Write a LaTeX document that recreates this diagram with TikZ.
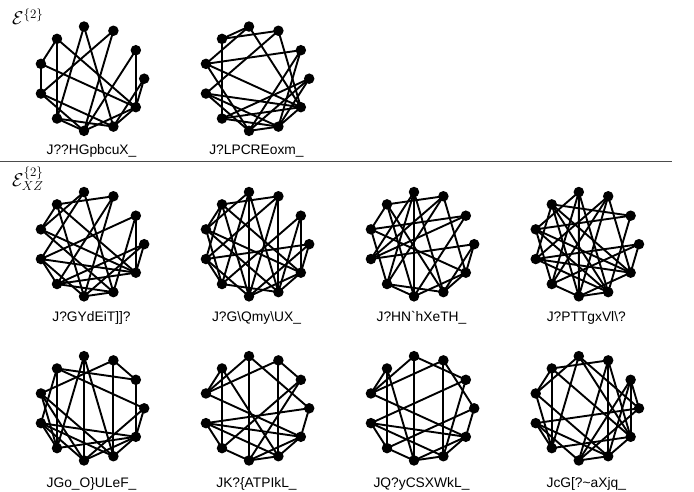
\RequirePackage{fix-cm}
\documentclass[tikz,border=0pt]{standalone}
\usepackage{fontspec}
\newfontfamily\lab{Liberation Sans}
\usetikzlibrary{backgrounds}
\tikzset{
  vtx/.style={circle, fill=black, inner sep=0pt, minimum size=10.5pt},
  edgeline/.style={line width=1.9pt, black},
  lbl/.style={font=\lab\fontsize{13.8}{15}\selectfont, anchor=base},
  sep/.style={line width=0.8pt, black!70},
  title/.style={anchor=base west, inner sep=0pt, font=\fontsize{18.5}{21}\selectfont}
}
\newcommand{\gdraw}[6]{%
  \begin{scope}[shift={(#2,#3)}]
    \foreach \k in {0,...,10} \node[vtx] (#1\k) at ({-360*\k/11}:52.7) {};
    \begin{scope}[on background layer]
      \foreach \a/\b in {#4} \draw[edgeline] (#1\a.center) -- (#1\b.center);
    \end{scope}
  \end{scope}
  \node[lbl] (#1lab) at (#2,#6) {#5};}
\begin{document}
\begin{tikzpicture}[x=1pt, y=-1pt]
\useasboundingbox (0,0) rectangle (694,492);
\node[title] (t1) at (12,25) {$\mathcal{E}^{\{2\}}$};
\node[title] (t2) at (12,186.5) {$\mathcal{E}^{\{2\}}_{XZ}$};
\coordinate (s1) at (0,161);
\coordinate (s2) at (672,161);
\draw[sep] (s1) -- (s2);
\gdraw{a}{91.5}{78.7}{4/5, 2/6, 5/6, 3/7, 4/7, 1/8, 2/8, 6/8, 7/8, 0/9, 3/9, 6/9, 7/9, 0/10, 1/10, 4/10, 5/10, 8/10, 9/10}{J??HGpbcuX\_}{155}
\gdraw{b}{256.5}{78.7}{2/4, 3/4, 1/5, 3/5, 2/6, 0/7, 4/7, 0/8, 1/8, 5/8, 6/8, 0/9, 1/9, 6/9, 7/9, 8/9, 2/10, 3/10, 5/10, 6/10, 7/10, 9/10}{J?LPCREoxm\_}{155}
\gdraw{c}{91.5}{244.2}{2/4, 3/5, 4/5, 1/6, 3/6, 0/7, 2/7, 6/7, 0/8, 2/8, 4/8, 6/8, 1/9, 3/9, 5/9, 7/9, 8/9, 0/10, 1/10, 4/10, 5/10, 6/10, 7/10}{J?GYdEiT]]?}{321.5}
\gdraw{d}{256.5}{244.2}{2/4, 3/5, 4/5, 0/6, 2/6, 4/6, 1/7, 3/7, 5/7, 6/7, 0/8, 2/8, 3/8, 4/8, 6/8, 1/9, 2/9, 3/9, 5/9, 7/9, 0/10, 1/10, 4/10, 5/10, 8/10, 9/10}{J?G\textbackslash Qmy\textbackslash UX\_}{321.5}
\gdraw{e}{421.5}{244.2}{2/4, 1/5, 4/5, 0/6, 1/6, 2/6, 3/6, 2/7, 3/7, 5/7, 1/8, 3/8, 4/8, 7/8, 0/9, 3/9, 4/9, 7/9, 0/10, 2/10, 5/10, 8/10, 9/10}{J?HN\textasciigrave hXeTH\_}{321.5}
\gdraw{f}{586.3}{244.2}{1/4, 1/5, 3/5, 0/6, 2/6, 4/6, 0/7, 2/7, 3/7, 5/7, 2/8, 3/8, 4/8, 7/8, 1/9, 3/9, 4/9, 5/9, 6/9, 8/9, 0/10, 2/10, 4/10, 5/10, 6/10, 8/10}{J?PTTgxVl\textbackslash ?}{321.5}
\gdraw{g}{91.5}{408.3}{1/2, 0/4, 1/4, 2/5, 4/6, 3/7, 4/7, 5/7, 6/7, 0/8, 3/8, 5/8, 6/8, 2/9, 3/9, 5/9, 6/9, 0/10, 1/10, 6/10, 7/10, 8/10, 9/10}{JGo\_O\}ULeF\_}{487}
\gdraw{h}{256.5}{408.3}{1/2, 0/3, 2/5, 3/5, 4/5, 0/6, 1/7, 4/7, 6/7, 1/8, 3/8, 7/8, 2/9, 4/9, 6/9, 8/9, 0/10, 5/10, 6/10, 8/10, 9/10}{JK?\{ATPIkL\_}{487}
\gdraw{i}{421.5}{408.3}{0/2, 1/3, 2/5, 3/5, 4/5, 1/6, 0/7, 4/7, 6/7, 3/8, 4/8, 7/8, 1/9, 2/9, 6/9, 8/9, 0/10, 5/10, 6/10, 8/10, 9/10}{JQ?yCSXWkL\_}{487}
\gdraw{j}{586.3}{408.3}{0/1, 0/3, 2/4, 3/5, 4/5, 0/6, 3/7, 4/7, 5/7, 6/7, 0/8, 1/8, 2/8, 6/8, 1/9, 2/9, 5/9, 6/9, 8/9, 1/10, 2/10, 3/10, 4/10, 7/10, 9/10}{JcG[?\textasciitilde aXjq\_}{487}
\end{tikzpicture}
\end{document}
